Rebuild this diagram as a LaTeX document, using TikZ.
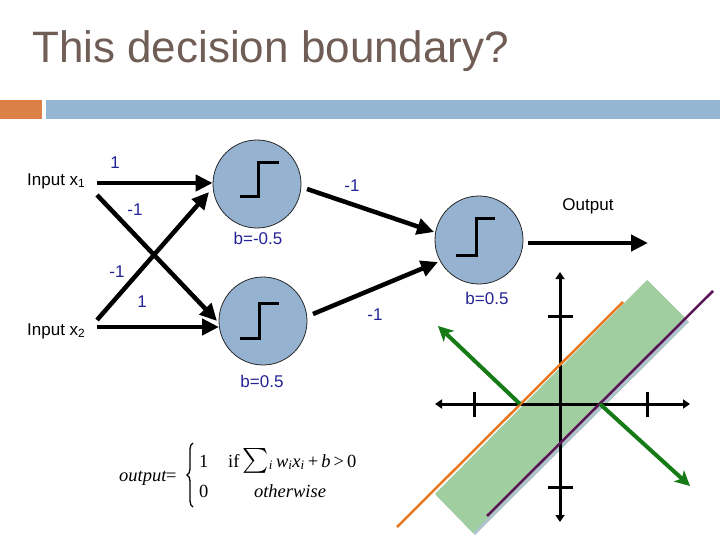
\documentclass[tikz,border=0pt]{standalone}
\usepackage{amsmath}
\usepackage{fontspec}
\setmainfont{Liberation Sans}
\newfontfamily\seriffam{Liberation Serif}
\usetikzlibrary{arrows.meta,decorations.pathreplacing}
\definecolor{titlec}{RGB}{112,93,85}
\definecolor{barorange}{RGB}{221,128,71}
\definecolor{barblue}{RGB}{148,182,210}
\definecolor{neuronc}{RGB}{149,179,209}
\definecolor{lblblue}{RGB}{35,35,150}
\definecolor{bandgreen}{RGB}{160,206,160}
\definecolor{bandshadow}{RGB}{175,195,205}
\definecolor{lineorange}{RGB}{232,119,34}
\definecolor{linepurple}{RGB}{92,22,88}
\definecolor{vecgreen}{RGB}{22,122,22}
\tikzset{
  neuron/.style={circle, draw=black!85, line width=0.8pt, fill=neuronc, minimum size=88pt, inner sep=0pt},
  glyph/.style={line width=3pt, black},
  netarrow/.style={line width=4.5pt, -{Triangle[length=17pt,width=16pt]}},
  wlabel/.style={text=lblblue, font=\fontsize{17}{20}\selectfont, inner sep=0pt},
  plainlabel/.style={text=black, font=\fontsize{17}{20}\selectfont, inner sep=0pt},
  fsty/.style={inner sep=0pt, font=\seriffam\fontsize{18.5}{22}\selectfont},
  axisline/.style={line width=3pt, {Triangle[length=7pt,width=9pt]}-{Triangle[length=7pt,width=9pt]}},
  tick/.style={line width=3pt},
  vecarrow/.style={line width=4pt, vecgreen, -{Stealth[length=15pt,width=15pt,inset=4pt]}}
}
\begin{document}
\begin{tikzpicture}[x=1pt,y=-1pt]
\useasboundingbox (0,0) rectangle (720,540);
% title and bars
\node[anchor=base west, text=titlec, font=\fontsize{44}{50}\selectfont, inner sep=0pt] (title) at (32,63) {This decision boundary?};
\fill[barorange] (0,100) rectangle (42,119);
\fill[barblue] (46,100) rectangle (720,119);

% neurons
\node[neuron] (n1) at (257,184) {};
\node[neuron] (n2) at (263,321) {};
\node[neuron] (n3) at (479,240) {};
\draw[glyph] ([shift={(-17,13)}]n1.center) -- ++(18,0) -- ++(0,-34) -- ++(21,0);
\draw[glyph] ([shift={(-23,17)}]n2.center) -- ++(19,0) -- ++(0,-35) -- ++(20,0);
\draw[glyph] ([shift={(-23,15)}]n3.center) -- ++(20,0) -- ++(0,-36) -- ++(19,0);

% inputs
\node[plainlabel, anchor=west] (in1) at (27,181) {Input x\textsubscript{1}};
\node[plainlabel, anchor=west] (in2) at (27,331) {Input x\textsubscript{2}};
\node[plainlabel] (out) at (588,206) {Output};

% arrow end points
\coordinate (a1s) at (97,183);
\coordinate (a2s) at (97,195);
\coordinate (a2e) at (217,321);
\coordinate (a3s) at (97,320);
\coordinate (a3e) at (209,192);
\coordinate (a4s) at (97,327);
\coordinate (a4e) at (219,327);
\coordinate (a5s) at (307,189);
\coordinate (a5e) at (434,232);
\coordinate (a6s) at (313,314);
\coordinate (a6e) at (438,262);
\coordinate (a7s) at (528,243);
\coordinate (a7e) at (648,243);

\draw[netarrow] (a1s) -- (n1.west |- a1s);
\draw[netarrow] (a2s) -- (a2e);
\draw[netarrow] (a3s) -- (a3e);
\draw[netarrow] (a4s) -- (a4e);
\draw[netarrow] (a5s) -- (a5e);
\draw[netarrow] (a6s) -- (a6e);
\draw[netarrow] (a7s) -- (a7e);

% weight labels
\node[wlabel] (w1) at (115,163) {1};
\node[wlabel] (w2) at (135,210) {-1};
\node[wlabel] (w3) at (117,272) {-1};
\node[wlabel] (w4) at (142,302) {1};
\node[wlabel] (w5) at (352,186) {-1};
\node[wlabel] (w6) at (375,315) {-1};
\node[wlabel] (b1) at (258,238) {b=-0.5};
\node[wlabel] (b2) at (262,381) {b=0.5};
\node[wlabel] (b3) at (487,298) {b=0.5};

% formula
\node[fsty, anchor=base west] (fout) at (119,481) {\itshape output};
\node[fsty, anchor=base west] (feq) at (166,481) {=};
\coordinate (bracebot) at (193,507);
\coordinate (bracetop) at (193,443);
\draw[line width=1.3pt, decorate, decoration={brace, amplitude=6pt}] (bracebot) -- (bracetop);
\node[fsty, anchor=base west] (fone) at (199,467) {1};
\node[fsty, anchor=base west] (fif) at (228,467) {if\,{\fontsize{23}{23}\selectfont$\sum$}\textsubscript{\itshape i}\,{\itshape w\textsubscript{i}x\textsubscript{i}}\,+\,{\itshape b}\,>\,0};
\node[fsty, anchor=base west] (fzero) at (199,497) {0};
\node[fsty, anchor=base] (fother) at (290,497) {\itshape otherwise};

% decision boundary plot
\fill[bandshadow] (649,282) -- (689,322) -- (475,535) -- (437,496) -- cycle;
\fill[bandgreen] (647,280) -- (686,319) -- (473,533) -- (435,494) -- cycle;
\draw[axisline] (435,404) -- (690,404);
\draw[axisline] (560,522) -- (560,272);
\draw[tick] (474,392) -- (474,417);
\draw[tick] (647,392) -- (647,417);
\draw[tick] (548,316) -- (573,316);
\draw[tick] (548,487) -- (573,487);
\draw[line width=2.5pt, lineorange] (397,527) -- (623,302);
\draw[line width=2.5pt, linepurple] (487,516) -- (713,291);
\draw[vecarrow] (520,404) -- (438,326);
\draw[vecarrow] (600,404) -- (690,486);
\end{tikzpicture}
\end{document}
